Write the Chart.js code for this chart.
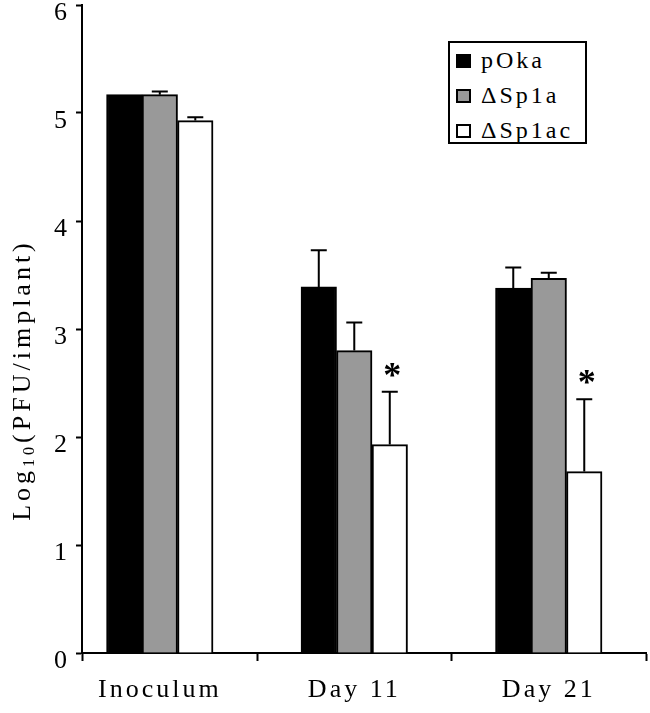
<!DOCTYPE html>
<html>
<head>
<meta charset="utf-8">
<script src="https://cdn.jsdelivr.net/npm/chart.js@4"></script>
<style>
  html, body { margin: 0; padding: 0; background: #fff; overflow: hidden; }
  #wrap { position: relative; width: 650px; height: 713px; }
  #legend {
    position: absolute; left: 448px; top: 41px; width: 135px; height: 99px;
    border: 2px solid #000; background: #fff;
    font: 24px "Liberation Serif", serif; letter-spacing: 3px; color: #000;
  }
  #legend .item { display: flex; align-items: center; height: 35px; }
  #legend .box { width: 11px; height: 10px; border: 2px solid #000; margin: 0 10px 0 6px; flex-shrink: 0; }
</style>
</head>
<body>
<div id="wrap">
  <canvas id="pfuChart"></canvas>
  <div id="legend"></div>
</div>
<script>
'use strict';

// données
const categories   = ['Inoculum', 'Day 11', 'Day 21'];
const seriesNames  = ['pOka', 'ΔSp1a', 'ΔSp1ac'];
const pOkaValues   = [5.17, 3.39, 3.38];
const sp1aValues   = [5.17, 2.80, 3.47];
const sp1acValues  = [4.93, 1.93, 1.68];
const pOkaErrors   = [0.00, 0.34, 0.19];
const sp1aErrors   = [0.03, 0.26, 0.05];
const sp1acErrors  = [0.03, 0.49, 0.67];
const significance = ['', '*', '*'];   // au-dessus de ΔSp1ac
const yTicks       = [0, 1, 2, 3, 4, 5, 6];

const SERIES_COLORS = ['#000000', '#999999', '#ffffff'];
const FONT = '"Liberation Serif", "Times New Roman", serif';

const values = [pOkaValues, sp1aValues, sp1acValues];
const errors = [pOkaErrors, sp1aErrors, sp1acErrors];

// graduations de l'axe x : centres (étiquettes) + limites de catégories (traits)
const xCenters = categories.map((_, i) => i);
const xBounds  = categories.map((_, i) => i + 0.5);
const X_MIN = -0.4;

// légende HTML
document.getElementById('legend').innerHTML = seriesNames.map((name, d) =>
  `<div class="item"><span class="box" style="background:${SERIES_COLORS[d]}"></span><span>${name}</span></div>`
).join('');

// espacement des lettres (la police d'origine est très large)
const spacingPlugin = {
  id: 'spacing',
  beforeUpdate(chart) { chart.ctx.letterSpacing = '3px'; },
  beforeDraw(chart)   { chart.ctx.letterSpacing = '3px'; },
};

// barres d'erreur (haut seulement) + astérisques + titre y
const errorBarPlugin = {
  id: 'errorBars',
  afterDatasetsDraw(chart) {
    const ctx = chart.ctx;
    const y = chart.scales.y;
    ctx.save();
    ctx.strokeStyle = '#000';
    ctx.lineWidth = 2;
    values.forEach((series, d) => {
      const meta = chart.getDatasetMeta(d);
      series.forEach((v, i) => {
        const err = errors[d][i];
        if (!err) return;
        const bar = meta.data[i];
        const top = y.getPixelForValue(v + err);
        ctx.beginPath();
        ctx.moveTo(bar.x, bar.y);
        ctx.lineTo(bar.x, top);
        ctx.moveTo(bar.x - 8, top);
        ctx.lineTo(bar.x + 8, top);
        ctx.stroke();
      });
    });
    const last = values.length - 1;
    const meta = chart.getDatasetMeta(last);
    ctx.fillStyle = '#000';
    ctx.font = 'bold 36px ' + FONT;
    ctx.textAlign = 'center';
    ctx.textBaseline = 'alphabetic';
    significance.forEach((mark, i) => {
      if (!mark) return;
      const top = y.getPixelForValue(values[last][i] + errors[last][i]);
      ctx.fillText(mark, meta.data[i].x + 4, top - 5);
    });
    ctx.restore();
  },
  afterDraw(chart) {
    const ctx = chart.ctx;
    ctx.save();
    ctx.translate(23, 380);
    ctx.rotate(-Math.PI / 2);
    ctx.fillStyle = '#000';
    ctx.textBaseline = 'middle';
    ctx.letterSpacing = '4px';
    const big = '26px ' + FONT, small = '16px ' + FONT;
    ctx.font = big;   const w1 = ctx.measureText('Log').width;
    ctx.font = small; const w2 = ctx.measureText('10').width;
    ctx.font = big;   const w3 = ctx.measureText('(PFU/implant)').width;
    let x = -(w1 + w2 + w3) / 2;
    ctx.textAlign = 'left';
    ctx.font = big;   ctx.fillText('Log', x, 0); x += w1;
    ctx.font = small; ctx.fillText('10', x, 7); x += w2;
    ctx.font = big;   ctx.fillText('(PFU/implant)', x, 0);
    ctx.restore();
  },
};

const datasets = seriesNames.map((name, d) => ({
  label: name,
  data: values[d].map((v, i) => ({ x: xCenters[i], y: v })),
  backgroundColor: SERIES_COLORS[d],
  borderColor: '#000',
  borderWidth: 2,
  borderSkipped: 'bottom',
  barThickness: 35.5,
}));

const isCenter = c => c.tick && Number.isInteger(c.tick.value);

const pfuChart = new Chart(document.getElementById('pfuChart'), {
  type: 'bar',
  data: { datasets },
  plugins: [spacingPlugin, errorBarPlugin],
  options: {
    responsive: true,
    maintainAspectRatio: false,
    animation: false,
    layout: { padding: { top: 5, right: 4, left: 0, bottom: 0 } },
    plugins: { legend: { display: false }, tooltip: { enabled: false } },
    scales: {
      x: {
        type: 'linear',
        offset: false,
        min: X_MIN,
        max: xBounds[xBounds.length - 1],
        afterBuildTicks: axis => {
          axis.ticks = [X_MIN, ...xCenters, ...xBounds]
            .sort((a, b) => a - b)
            .map(v => ({ value: v }));
        },
        afterFit: axis => { axis.height = 60; axis.paddingLeft = 0; axis.paddingRight = 0; },
        border: { color: '#000', width: 2 },
        grid: {
          offset: false,
          drawOnChartArea: false,
          tickLength: 8,
          tickWidth: 2,
          tickColor: c => (isCenter(c) ? 'rgba(0,0,0,0)' : '#000'),
        },
        ticks: {
          autoSkip: false,
          maxRotation: 0,
          color: '#000',
          padding: 14,
          font: { family: FONT, size: 26 },
          callback: v => (Number.isInteger(v) ? categories[v] : ''),
        },
      },
      y: {
        min: 0,
        max: yTicks[yTicks.length - 1],
        afterBuildTicks: axis => { axis.ticks = yTicks.map(v => ({ value: v })); },
        afterFit: axis => { axis.width = 82; axis.paddingTop = 0; axis.paddingBottom = 0; },
        border: { color: '#000', width: 2 },
        grid: { drawOnChartArea: false, tickLength: 6, tickWidth: 2, tickColor: '#000' },
        ticks: { color: '#000', padding: 6, labelOffset: 8, font: { family: FONT, size: 26 } },
      },
    },
  },
});
</script>
</body>
</html>
